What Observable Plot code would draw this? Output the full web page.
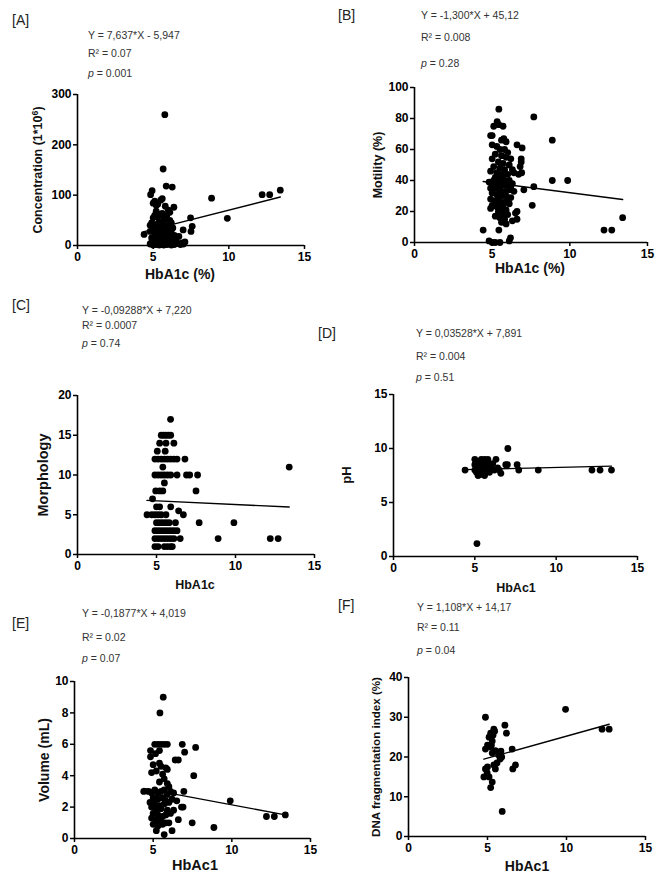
<!DOCTYPE html>
<html><head><meta charset="utf-8">
<script src="https://cdn.jsdelivr.net/npm/d3@7"></script>
<script src="https://cdn.jsdelivr.net/npm/@observablehq/plot@0.6"></script>
<style>
body{margin:0;background:#fff;}
#fig{position:relative;width:662px;height:878px;font-family:"Liberation Sans",Arial,sans-serif;overflow:hidden;background:#fff;}
.pn{position:absolute;}
.txt{position:absolute;line-height:1;white-space:nowrap;}
.ctr{position:absolute;line-height:1;white-space:nowrap;font-weight:bold;color:#111;transform:translate(-50%,-50%);}
.rot{position:absolute;line-height:1;white-space:nowrap;font-weight:bold;color:#111;transform:translate(-50%,-50%) rotate(-90deg);}
</style></head><body><div id="fig"></div>
<script>
// ---------- data ----------
const panelLetters = ["[A]","[B]","[C]","[D]","[E]","[F]"];
const xLabels = ["HbA1c (%)","HbA1c (%)","HbA1c","HbAc1","HbAc1","HbAc1"];
const yLabels = ["Concentration (1*10<sup style='font-size:0.7em;vertical-align:0.45em'>6</sup>)","Motility (%)","Morphology","pH","Volume (mL)","DNA fragmentation index (%)"];
const xTicks = [0,5,10,15];
const yTicksList = [[0,100,200,300],[0,20,40,60,80,100],[0,5,10,15,20],[0,5,10,15],[0,2,4,6,8,10],[0,10,20,30,40]];
const equations = ["Y = 7,637*X - 5,947","Y = -1,300*X + 45,12","Y = -0,09288*X + 7,220","Y = 0,03528*X + 7,891","Y = -0,1877*X + 4,019","Y = 1,108*X + 14,17"];
const slopes = [7.637,-1.300,-0.09288,0.03528,-0.1877,1.108];
const intercepts = [-5.947,45.12,7.220,7.891,4.019,14.17];
const r2Values = ["0.07","0.008","0.0007","0.004","0.02","0.11"];
const pValues = ["0.001","0.28","0.74","0.51","0.07","0.04"];

const concentration = [[5.77,260],[5.66,152],[5.86,118],[6.26,116],[4.93,109],[4.83,101],[8.86,94],[9.9,54],[12.2,101],[12.7,101],[13.4,110],
[5.1,88],[5.3,82],[5.5,90],[5.6,93],[5.2,80],[5.0,84],[5.8,78],[6.0,70],[6.37,76],[6.1,66],
[5.1,60],[5.3,57],[5.5,62],[5.7,55],[5.9,52],[6.1,50],[5.0,55],
[4.9,45],[5.2,42],[5.4,47],[5.6,44],[5.8,40],[6.0,38],[6.3,35],[4.8,40],
[7.47,55],[7.58,38],[7.5,28],[6.98,31],[7.1,7],[6.7,18],[6.5,12],[6.9,5],
[4.4,22],[4.8,28],[5.0,32],[5.1,25],[5.3,30],[5.4,22],[5.5,35],[5.7,28],[5.8,22],[5.9,30],[6.0,18],[6.2,25],[6.4,20],
[4.9,15],[5.0,10],[5.2,14],[5.3,18],[5.4,8],[5.5,15],[5.6,12],[5.7,6],[5.8,14],[6.0,8],[6.1,12],[6.3,6],[6.6,4],
[4.8,3],[4.9,6],[5.0,1],[5.1,4],[5.2,2],[5.3,5],[5.4,1],[5.5,3],[5.6,2],[5.7,1],[5.8,4],[5.9,2],[6.0,3],[6.2,1],[6.4,2],[6.8,2],[7.0,3],
[5.4,38],[5.6,64],[5.2,68],[5.9,60],[6.2,45]];

const motility = [[5.43,86],[7.68,81],[5.32,78],[5.43,76],[5.1,75],[5.7,75],[4.9,69],[5.0,69],[5.75,67],[5.6,66],[5.9,65],
[6.6,63],[6.93,61],[6.87,54],[6.87,52],[6.8,49],[6.7,44],[6.9,45],[8.87,66],[8.87,40],[9.86,40],[7.68,36],[7.04,34],[7.58,24],[6.5,19],[6.3,14],[6.6,15],[6.6,20],
[13.4,16],[12.2,8],[12.7,8],[4.42,8],[5.43,8],[4.8,1],[5.0,0],[5.2,0],[5.5,0],[6.18,3],[6.1,1],
[5.0,63],[5.3,62],[5.5,60],[5.8,60],[6.0,58],[5.2,57],[5.6,56],[5.9,55],[6.2,54],[5.0,54],[5.4,52],[5.7,51],[6.1,50],[5.1,49],[5.5,48],[5.8,47],[6.3,47],[4.9,46],[5.3,45],[5.6,44],[6.0,44],[6.4,45],[5.2,42],[5.5,41],[5.8,40],[6.1,40],[4.8,39],[5.0,38],[5.3,38],[5.6,37],[5.9,37],[6.3,38],[4.9,35],[5.2,35],[5.5,34],[5.8,33],[6.1,34],[6.4,33],[5.0,32],[5.3,31],[5.6,30],[5.9,30],[6.2,29],[4.9,28],[5.2,27],[5.5,26],[5.8,26],[6.1,25],[5.0,24],[5.3,23],[5.6,22],[5.9,21],[4.9,22],[5.4,20],[5.7,19],[6.0,18],[5.5,16],[5.8,15],[5.6,13],[5.9,12],[5.2,17],[5.7,24],[6.0,27],[5.4,36],[5.7,43],[5.4,29],[5.1,40],[6.2,36]];

const morphology = [[5.89,17],
[5.3,15],[5.45,15],[5.6,15],[5.75,15],[5.9,15],
[5.2,14],[5.6,14],[6.1,14],
[5.05,13],[5.55,13],
[4.9,12],[5.1,12],[5.3,12],[5.5,12],[5.7,12],[5.9,12],[6.1,12],[6.3,12],[6.8,12],
[5.4,11],[13.4,11],
[4.9,10],[5.1,10],[5.3,10],[5.5,10],[5.7,10],[5.9,10],[6.3,10],[6.9,10],[7.1,10],[7.6,10],
[5.5,9],
[4.95,8],[5.2,8],[5.4,8],[7.5,8],
[4.75,7],
[5.0,6],[5.2,6],[5.9,6],
[4.4,5],[4.7,5],[4.9,5],[5.1,5],[5.3,5],[5.6,5],[6.7,5],[6.4,5.5],
[5.0,4],[5.2,4],[5.4,4],[5.6,4],[5.8,4],[6.2,4],[7.7,4],[9.9,4],
[4.9,3],[5.1,3],[5.3,3],[5.5,3],[5.7,3],[5.9,3],[6.1,3],[6.3,3],
[4.9,2],[5.1,2],[5.3,2],[5.5,2],[5.7,2],[5.9,2],[6.1,2],[6.5,2],[8.9,2],[12.2,2],[12.7,2],
[4.9,1],[5.1,1],[5.5,1],[5.7,1],[5.9,1],[6.0,1]];

const pH = [[4.4,8],[5.13,1.2],[7.03,10],[8.9,8],[12.2,8],[12.7,8],[13.4,8],[7.6,8.5],[7.7,8],[6.9,8.5],[7.0,8.5],[6.6,7.7],[6.3,9],[6.4,8.2],
[5.0,8],[5.0,8.5],[5.0,9],[5.1,7.8],[5.2,8.3],[5.2,7.5],[5.3,8.8],[5.3,8],[5.4,9],[5.4,7.7],[5.5,8.5],[5.5,8],[5.6,9],[5.6,7.5],[5.7,8.3],[5.7,8.8],[5.8,8],[5.8,9],[5.9,8.5],[5.9,7.8],[6.0,8.2],[6.1,8.6],[6.2,8],[5.15,8.6],[5.35,7.6],[5.45,8.4],[5.65,8.2],[5.75,7.9],[6.5,8]];

const volume = [[5.64,9],[5.43,8],[5.1,6],[5.3,6],[5.5,6],[5.7,6],[5.9,6],[6.85,6],[7.7,5.8],[7.0,5.5],[4.83,5.6],[5.15,5.4],[4.83,5.2],[5.4,5.6],[6.4,5],[6.6,5],[5.0,4.7],[5.5,4.6],[5.8,4.5],[4.9,4.2],[5.2,4.3],[5.6,4.1],[5.9,4.4],[7.58,4],[5.7,3.8],[5.4,3.6],[5.9,3.5],[4.4,3],[4.7,3],[4.9,2.9],[5.1,3.1],[5.3,2.9],[5.5,3],[5.7,3.1],[5.9,2.8],[6.1,3],[6.3,2.9],[6.95,3],[5.0,2.6],[5.3,2.5],[5.6,2.6],[5.8,2.4],[6.2,2.5],[6.5,2.4],[4.8,2.3],[5.1,2.2],[5.4,2.1],[5.7,2.2],[6.0,2.3],[4.9,2.0],[5.2,1.8],[5.5,1.9],[5.9,1.8],[6.3,1.8],[6.8,2],[6.9,2],[5.0,1.6],[5.3,1.5],[5.6,1.4],[5.8,1.5],[6.1,1.6],[4.9,1.3],[5.2,1.2],[5.5,1.1],[5.8,1.0],[6.6,1.2],[5.0,0.9],[5.3,0.8],[5.6,0.9],[6.0,1.0],[5.2,0.5],[5.7,0.25],[6.2,0.5],[7.48,1],[8.86,0.7],[9.9,2.4],[12.2,1.4],[12.7,1.4],[13.4,1.5],[5.4,4.8],[6.0,3.3]];

const dnaFragmentation = [[4.87,30],[9.94,32],[12.25,27],[12.7,27],[5.4,27],[6.1,28],[6.2,26],[5.2,26],[5.1,25],[5.3,24],[5.35,25.5],[5.45,26.5],[4.87,22],[5.0,23],[5.2,22.5],[5.5,21.6],[5.3,21],[6.56,22],[5.8,19.5],[5.7,20.5],[5.85,21.5],[5.4,18],[5.5,17],[6.77,18],[6.6,17],[4.87,17],[4.77,15],[4.98,16],[5.3,13.7],[5.2,12.3],[5.93,6.3],[5.1,15],[5.6,18.5],[5.9,20],[5.25,23],[5.0,17.5]];

const panelData = [concentration, motility, morphology, pH, volume, dnaFragmentation];

// ---------- layout (page pixels) ----------
const layout = [
  {x0:77, x15:304, y0:245, yT:94, letter:[12,20], ann:[88,35,53,73], xl:[180,274,14], yl:[38,12.5]},
  {x0:414,x15:647, y0:242, yT:87, letter:[338,15], ann:[421,15,37,63], xl:[530,268,14], yl:[378,12.5]},
  {x0:77, x15:314, y0:554, yT:395, letter:[12,305], ann:[82,310,325,343], xl:[195,585,12.5], yl:[43,14.5]},
  {x0:393,x15:637, y0:556, yT:394, letter:[318,333], ann:[416,333,356,377], xl:[516,588,12.5], yl:[346,13]},
  {x0:74, x15:310, y0:838, yT:681, letter:[12,623], ann:[82,613,637,658], xl:[195,865,14.5], yl:[44,14]},
  {x0:408,x15:645, y0:836, yT:677, letter:[338,605], ann:[417,607,627,650], xl:[527,866,14], yl:[376,11.6]}
];
const ML = 62, MR = 15, MT = 12, MB = 42;
const FONT = '"Liberation Sans", Arial, sans-serif';
const fig = document.getElementById("fig");

function addText(html, left, cy, size, color) {
  const d = document.createElement("div");
  d.className = "txt";
  d.innerHTML = html;
  d.style.left = left + "px";
  d.style.top = (cy - 0.49 * size) + "px";
  d.style.fontSize = size + "px";
  d.style.color = color;
  fig.appendChild(d);
}
function addCentered(html, cx, cy, size, cls) {
  const d = document.createElement("div");
  d.className = cls;
  d.innerHTML = html;
  d.style.left = cx + "px";
  d.style.top = cy + "px";
  d.style.fontSize = size + "px";
  fig.appendChild(d);
}

panelData.forEach((pts, i) => {
  const L = layout[i];
  const yTicks = yTicksList[i];
  const rows = pts.map(([x, y]) => ({x, y}));
  const [lo, hi] = d3.extent(rows, d => d.x);
  const fit = [lo, hi].map(x => ({x, y: slopes[i] * x + intercepts[i]}));
  const xDomain = [xTicks[0], xTicks[xTicks.length - 1]];
  const yDomain = [yTicks[0], yTicks[yTicks.length - 1]];
  const w = (L.x15 - L.x0) + ML + MR;
  const h = (L.y0 - L.yT) + MT + MB;
  const svg = Plot.plot({
    width: w, height: h,
    marginLeft: ML, marginRight: MR, marginTop: MT, marginBottom: MB,
    style: {background: "transparent", overflow: "visible", color: "#000", fontFamily: FONT},
    x: {domain: xDomain, type: "linear"},
    y: {domain: yDomain, type: "linear"},
    marks: [
      Plot.ruleX([xDomain[0]], {stroke: "#000", strokeWidth: 1.6}),
      Plot.ruleY([yDomain[0]], {stroke: "#000", strokeWidth: 1.6}),
      Plot.axisX({ticks: xTicks, tickSize: 4, tickPadding: 3, fontSize: 12, fontWeight: "bold", strokeWidth: 1.5, label: null, fill: "#000"}),
      Plot.axisY({ticks: yTicks, tickSize: 4, tickPadding: 2, fontSize: 12, fontWeight: "bold", strokeWidth: 1.5, label: null, fill: "#000"}),
      Plot.dot(rows, {x: "x", y: "y", r: 3.4, fill: "#000"}),
      Plot.line(fit, {x: "x", y: "y", stroke: "#000", strokeWidth: 1.4})
    ]
  });
  const wrap = document.createElement("div");
  wrap.className = "pn";
  wrap.style.left = (L.x0 - ML) + "px";
  wrap.style.top = (L.yT - MT) + "px";
  wrap.appendChild(svg);
  fig.appendChild(wrap);
  addCentered(xLabels[i], L.xl[0], L.xl[1], L.xl[2], "ctr");
  addCentered(yLabels[i], L.yl[0], (L.y0 + L.yT) / 2, L.yl[1], "rot");
});

// annotations
layout.forEach((L, i) => {
  addText(panelLetters[i], L.letter[0], L.letter[1], 14, "#222");
  addText(equations[i], L.ann[0], L.ann[1], 10.5, "#333");
  addText("R² = " + r2Values[i], L.ann[0], L.ann[2], 10.5, "#333");
  addText("<i>p</i> = " + pValues[i], L.ann[0], L.ann[3], 10.5, "#333");
});
</script>
</body></html>
